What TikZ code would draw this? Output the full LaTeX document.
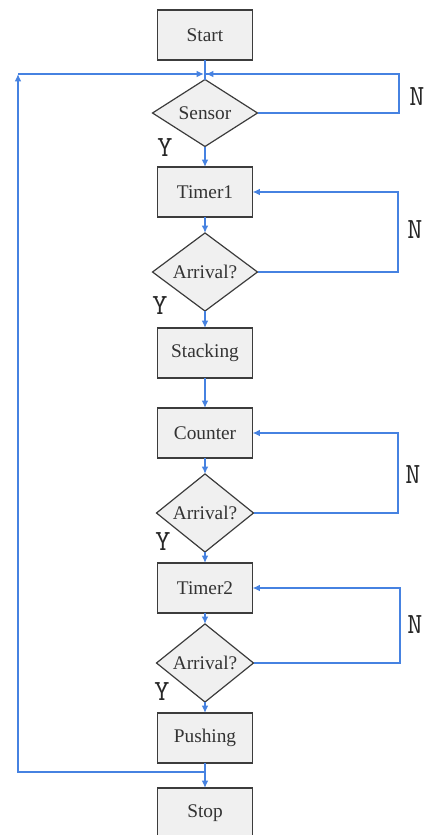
\documentclass[tikz,border=0pt]{standalone}
\usepackage{fontspec}
\setmainfont{Liberation Serif}
\usetikzlibrary{shapes.geometric,arrows.meta}
\definecolor{lineblue}{RGB}{70,130,225}
\definecolor{boxfill}{RGB}{240,240,240}
\definecolor{boxdraw}{RGB}{60,60,60}
\tikzset{
  px/.style={x=0.75pt,y=-0.75pt},
  stepbox/.style={rectangle,draw=boxdraw,fill=boxfill,line width=1.1pt,minimum width=71.25pt,minimum height=37.5pt,inner sep=0pt,outer sep=0pt,font=\fontsize{14.5}{16}\selectfont,text=black!80},
  decide/.style={diamond,draw=boxdraw,fill=boxfill,line width=0.9pt,inner sep=0pt,outer sep=0pt,font=\fontsize{14.5}{16}\selectfont,text=black!80},
  conn/.style={draw=lineblue,line width=1.1pt},
  arr/.style={conn,-{Latex[length=5.5pt,width=5pt]}},
  yn/.style={font=\fontsize{22}{22}\ttfamily,text=black!85,inner sep=0pt}
}
\begin{document}
\begin{tikzpicture}[px]
\useasboundingbox (0,0) rectangle (428,835);
\node[stepbox] (start) at (205,35) {Start};
\node[decide,minimum width=78.75pt,minimum height=50.25pt] (sensor) at (205,113) {Sensor};
\node[stepbox] (timer1) at (205,192) {Timer1};
\node[decide,minimum width=78.75pt,minimum height=51pt] (arr1) at (205,272) {Arrival?};
\node[stepbox] (stacking) at (205,353) {Stacking};
\node[stepbox] (counter) at (205,433) {Counter};
\node[decide,minimum width=72.75pt,minimum height=46.5pt] (arr2) at (205,513) {Arrival?};
\node[stepbox] (timer2) at (205,588) {Timer2};
\node[decide,minimum width=72.75pt,minimum height=47.25pt] (arr3) at (205,663) {Arrival?};
\node[stepbox] (pushing) at (205,738) {Pushing};
\node[stepbox] (stop) at (205,813) {Stop};

\coordinate (jl) at (204,74);
\coordinate (jr) at (206,74);
\coordinate (lc) at (18,74);
\coordinate (pb) at (205,772);
\coordinate (r1) at (399,113);
\coordinate (r2) at (398,272);
\coordinate (r3) at (398,513);
\coordinate (r4) at (400,663);

\draw[conn] (start.south) -- (sensor.north);
\draw[conn] (sensor.east) -- (r1) |- (jr);
\draw[arr] ([xshift=30pt]jr) -- (jr);
\draw[arr] (sensor.south) -- (timer1.north);
\draw[arr] (timer1.south) -- (arr1.north);
\draw[arr] (arr1.east) -- (r2) |- (timer1.east);
\draw[arr] (arr1.south) -- (stacking.north);
\draw[arr] (stacking.south) -- (counter.north);
\draw[arr] (counter.south) -- (arr2.north);
\draw[arr] (arr2.east) -- (r3) |- (counter.east);
\draw[arr] (arr2.south) -- (timer2.north);
\draw[arr] (timer2.south) -- (arr3.north);
\draw[arr] (arr3.east) -- (r4) |- (timer2.east);
\draw[arr] (arr3.south) -- (pushing.north);
\draw[arr] (pushing.south) -- (stop.north);
\draw[arr] (pb) -| (lc);
\draw[arr] (lc) -- (jl);

\node[yn] (n1) at (417,97) {N};
\node[yn] (y1) at (165,148) {Y};
\node[yn] (n2) at (415,230) {N};
\node[yn] (y2) at (160,306) {Y};
\node[yn] (n3) at (413,475) {N};
\node[yn] (y3) at (163,542) {Y};
\node[yn] (n4) at (415,625) {N};
\node[yn] (y4) at (162,692) {Y};
\end{tikzpicture}
\end{document}
